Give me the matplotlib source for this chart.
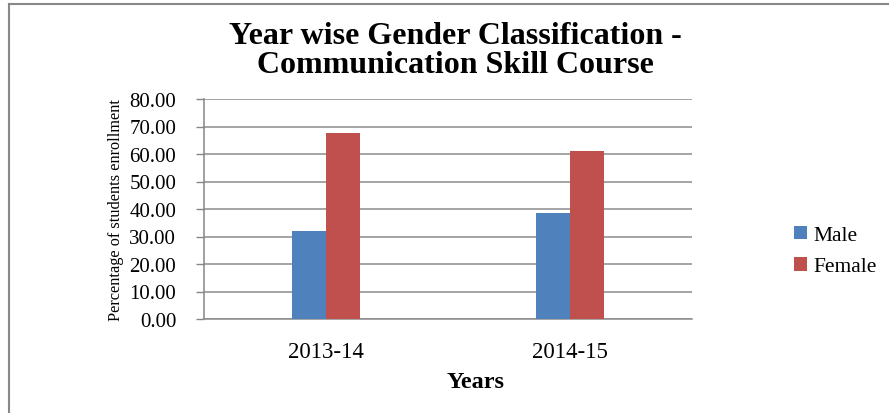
import matplotlib
matplotlib.use("Agg")
import matplotlib.pyplot as plt
from matplotlib.lines import Line2D
import numpy as np

years = ["2013-14", "2014-15"]
male = [31.9, 38.4]
female = [67.6, 61.2]
series_names = ["Male", "Female"]
yticks = [0, 10, 20, 30, 40, 50, 60, 70, 80]

W, H = 889, 414
fig = plt.figure(figsize=(W / 100, H / 100), dpi=100)
plt.rcParams['font.family'] = ['Liberation Serif', 'DejaVu Serif']

ax = fig.add_axes([204 / W, 1 - 320 / H, (692 - 204) / W, 220 / H])
x = np.arange(len(years))
bw = 0.14
ax.bar(x - bw / 2, male, bw, color="#4F81BD", label=series_names[0], zorder=3)
ax.bar(x + bw / 2, female, bw, color="#C0504D", label=series_names[1], zorder=3)

ax.set_xlim(-0.5, len(years) - 0.5)
ax.set_ylim(0, 80)
ax.set_yticks(yticks)
ax.set_yticklabels([f"{v:.2f}" for v in yticks], fontsize=15)
ax.set_xticks(x)
ax.set_xticklabels(years, fontsize=16.5)
ax.tick_params(axis='x', length=0, pad=16)
ax.tick_params(axis='y', length=6, width=1, color="#868686", pad=14)
ax.yaxis.grid(True, color="#8c8c8c", linewidth=1.1, zorder=0)
ax.set_axisbelow(True)
for s in ["top", "right"]:
    ax.spines[s].set_visible(False)
ax.spines["left"].set_color("#868686")
ax.spines["bottom"].set_color("#8c8c8c")
ax.spines["left"].set_linewidth(1.1)
ax.spines["bottom"].set_linewidth(1.1)

ax.set_ylabel("Percentage of students enrollment", fontsize=11.7, va="center")
ax.yaxis.set_label_coords(-0.18, 0.5)
ax.set_xlabel("Years", fontsize=17.5, fontweight="bold", va="center")
ax.xaxis.set_label_coords(0.556, -0.286)

fig.text(455 / W, 1 - 51 / H, "Year wise Gender Classification -\nCommunication Skill Course",
         ha="center", va="center", fontsize=23, fontweight="bold", linespacing=1.02)

leg = ax.legend(loc="center left", bbox_to_anchor=(775 / W, 1 - 252 / H),
                bbox_transform=fig.transFigure, frameon=False, fontsize=15.5,
                handlelength=0.6, handleheight=0.6, handletextpad=0.3, labelspacing=0.55)

fig.add_artist(Line2D([8.5 / W, 8.5 / W], [0, 1 - 4.5 / H], transform=fig.transFigure,
                      color="#888888", linewidth=1.5))
fig.add_artist(Line2D([8.5 / W, 1], [1 - 4.5 / H, 1 - 4.5 / H], transform=fig.transFigure,
                      color="#888888", linewidth=1.5))

fig.savefig("out.png", dpi=100)
